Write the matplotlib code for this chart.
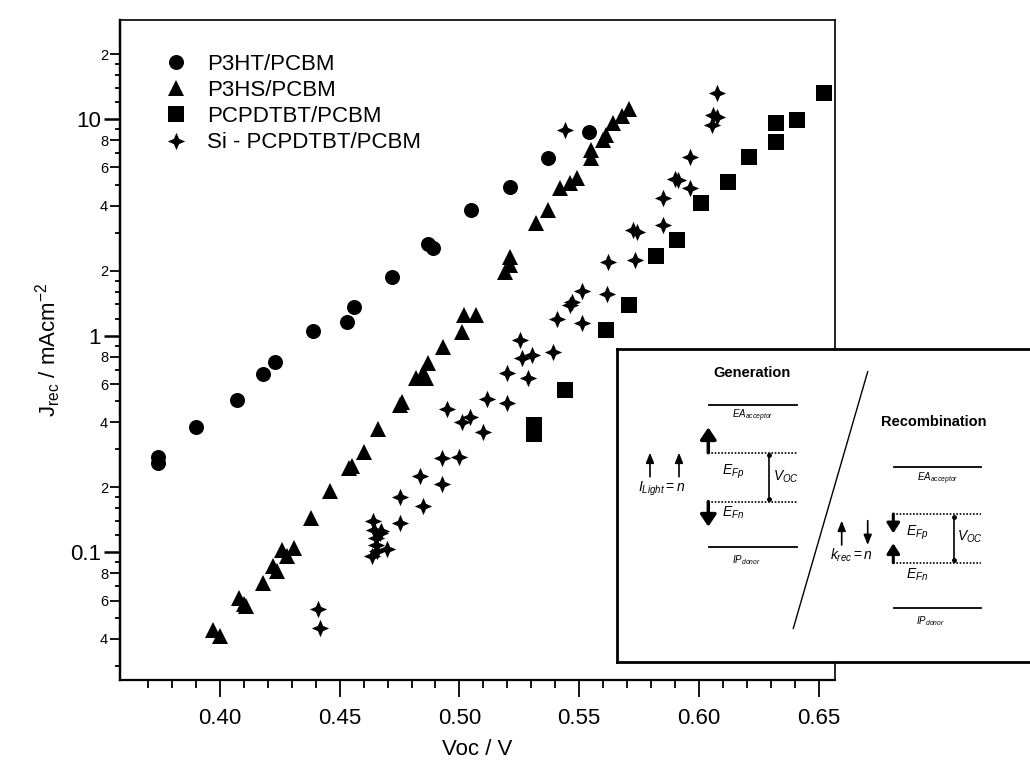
import matplotlib
matplotlib.use('Agg')
import matplotlib.pyplot as plt
from matplotlib.ticker import FixedLocator, FixedFormatter, NullFormatter, NullLocator

plt.rcParams['font.family'] = ['Liberation Sans', 'DejaVu Sans']
plt.rcParams['mathtext.fontset'] = 'custom'
plt.rcParams['mathtext.rm'] = 'Liberation Sans'
plt.rcParams['mathtext.it'] = 'Liberation Sans:italic'
plt.rcParams['mathtext.bf'] = 'Liberation Sans:bold'

# --- data (Voc in V, Jrec in mA/cm2) ---
p3ht_voc = [0.374, 0.374, 0.390, 0.407, 0.418, 0.423, 0.439, 0.453, 0.456, 0.472,
            0.487, 0.489, 0.505, 0.521, 0.537, 0.554]
p3ht_j = [0.277, 0.258, 0.379, 0.506, 0.665, 0.761, 1.058, 1.164, 1.357, 1.867,
          2.66, 2.55, 3.82, 4.89, 6.62, 8.76]

p3hs_voc = [0.397, 0.400, 0.408, 0.410, 0.411, 0.418, 0.422, 0.424, 0.426, 0.428,
            0.431, 0.438, 0.446, 0.454, 0.455, 0.460, 0.466, 0.475, 0.476, 0.482,
            0.485, 0.486, 0.487, 0.493, 0.501, 0.502, 0.507, 0.519, 0.521, 0.521,
            0.532, 0.537, 0.542, 0.546, 0.549, 0.555, 0.555, 0.560, 0.561, 0.564,
            0.568, 0.571]
p3hs_j = [0.0439, 0.0411, 0.0616, 0.0578, 0.0566, 0.0723, 0.0866, 0.0821, 0.1027, 0.0963,
          0.105, 0.144, 0.192, 0.245, 0.252, 0.292, 0.371, 0.480, 0.497, 0.638,
          0.673, 0.638, 0.748, 0.892, 1.047, 1.25, 1.25, 1.98, 2.13, 2.32,
          3.32, 3.82, 4.81, 5.07, 5.35, 6.62, 7.23, 8.04, 8.48, 9.60,
          10.38, 11.18]

pcpdtbt_voc = [0.531, 0.531, 0.544, 0.561, 0.571, 0.582, 0.591, 0.601, 0.612, 0.621,
               0.632, 0.632, 0.641, 0.652]
pcpdtbt_j = [0.386, 0.353, 0.563, 1.066, 1.39, 2.33, 2.78, 4.10, 5.16, 6.73,
             7.90, 9.67, 9.95, 13.2]

si_voc = [0.441, 0.442, 0.464, 0.4645, 0.465, 0.4653, 0.4657, 0.4636, 0.4674, 0.467,
          0.4698, 0.475, 0.4753, 0.4834, 0.4848, 0.4927, 0.500, 0.4927, 0.4948, 0.501,
          0.5045, 0.510, 0.5115, 0.5198, 0.5198, 0.5288, 0.5254, 0.5261, 0.5302, 0.5392,
          0.5407, 0.5511, 0.5462, 0.5469, 0.5511, 0.5615, 0.562, 0.5735, 0.5726, 0.574,
          0.5848, 0.5848, 0.590, 0.5914, 0.5962, 0.5962, 0.6053, 0.606, 0.6074, 0.6074,
          0.5441]
si_j = [0.0548, 0.0448, 0.140, 0.127, 0.1167, 0.1083, 0.1016, 0.0963, 0.1257, 0.1227,
        0.1035, 0.1364, 0.181, 0.2256, 0.164, 0.2723, 0.2753, 0.2065, 0.4585, 0.402,
        0.424, 0.361, 0.510, 0.492, 0.673, 0.638, 0.958, 0.789, 0.817, 0.846,
        1.198, 1.148, 1.39, 1.44, 1.61, 1.56, 2.19, 2.24, 3.09, 3.03,
        3.26, 4.33, 5.32, 5.25, 4.81, 6.73, 9.43, 10.49, 10.27, 13.2,
        8.94]

labels = ['P3HT/PCBM', 'P3HS/PCBM', 'PCPDTBT/PCBM', 'Si - PCPDTBT/PCBM']

x_major = [0.40, 0.45, 0.50, 0.55, 0.60, 0.65]
x_major_lab = ['0.40', '0.45', '0.50', '0.55', '0.60', '0.65']
x_minor = [0.37, 0.38, 0.39, 0.41, 0.42, 0.43, 0.44, 0.46, 0.47, 0.48, 0.49,
           0.51, 0.52, 0.53, 0.54, 0.56, 0.57, 0.58, 0.59, 0.61, 0.62, 0.63, 0.64]
y_major = [0.1, 1, 10]
y_major_lab = ['0.1', '1', '10']
y_mid = [0.04, 0.06, 0.08, 0.2, 0.4, 0.6, 0.8, 2, 4, 6, 8, 20]
y_mid_lab = ['4', '6', '8', '2', '4', '6', '8', '2', '4', '6', '8', '2']
y_small = [0.03, 0.05, 0.07, 0.09, 0.12, 0.14, 0.16, 0.18, 0.3, 0.5, 0.7, 0.9,
           1.2, 1.4, 1.6, 1.8, 3, 5, 7, 9, 12, 14, 16, 18]

# four pointed star marker
star4 = [(0, 1), (0.3, 0.3), (1, 0), (0.3, -0.3), (0, -1),
         (-0.3, -0.3), (-1, 0), (-0.3, 0.3), (0, 1)]

fig = plt.figure(figsize=(10.3, 7.67), dpi=100)
ax = fig.add_axes([120/1030, 87/767, 715/1030, 660/767])

ax.plot(p3ht_voc, p3ht_j, 'o', color='black', ms=10.8, mew=0, label=labels[0])
ax.plot(p3hs_voc, p3hs_j, '^', color='black', ms=12, mew=0, label=labels[1])
ax.plot(pcpdtbt_voc, pcpdtbt_j, 's', color='black', ms=11, mew=0, label=labels[2])
ax.plot(si_voc, si_j, linestyle='none', marker=star4, color='black', ms=12.5, mew=0, label=labels[3])

ax.set_yscale('log')
ax.set_xlim(0.3583, 0.6568)
ax.set_ylim(0.02577, 28.8)

ax.xaxis.set_major_locator(FixedLocator(x_major))
ax.xaxis.set_major_formatter(FixedFormatter(x_major_lab))
ax.xaxis.set_minor_locator(FixedLocator(x_minor))
ax.xaxis.set_minor_formatter(NullFormatter())
ax.yaxis.set_major_locator(FixedLocator(y_major))
ax.yaxis.set_major_formatter(FixedFormatter(y_major_lab))
ax.yaxis.set_minor_locator(FixedLocator(y_mid))
ax.yaxis.set_minor_formatter(FixedFormatter(y_mid_lab))

ax.tick_params(axis='x', which='major', direction='out', length=12, width=1.3,
               labelsize=16, pad=8)
ax.tick_params(axis='x', which='minor', direction='out', length=5.8, width=1.3)
ax.tick_params(axis='y', which='major', direction='out', length=11.5, width=1.8,
               labelsize=16, pad=2)
ax.tick_params(axis='y', which='minor', direction='out', length=7, width=1.3,
               labelsize=10.5, pad=1.5)
ax.tick_params(top=False, right=False)
for side in ['left', 'bottom']:
    ax.spines[side].set_linewidth(1.6)
for side in ['top', 'right']:
    ax.spines[side].set_linewidth(1.2)

sec = ax.secondary_yaxis('left')
sec.set_yticks(y_small)
sec.yaxis.set_major_formatter(NullFormatter())
sec.yaxis.set_minor_locator(NullLocator())
sec.tick_params(which='major', direction='out', length=3.6, width=1.3)
sec.spines['left'].set_linewidth(1.6)

ax.set_xlabel('Voc / V', fontsize=16)
ax.xaxis.set_label_coords(0.5, -0.09)
ax.set_ylabel(r'J$_{\mathrm{rec}}$ / mAcm$^{\mathrm{-2}}$', fontsize=16)
ax.yaxis.set_label_coords(-0.08, 0.5)

ax.legend(loc='upper left', bbox_to_anchor=(159.5/1030, 1 - 54/767),
          bbox_transform=fig.transFigure, frameon=False, fontsize=16,
          handlelength=1.5, handletextpad=0.65, labelspacing=0.23,
          borderpad=0, borderaxespad=0)

# --- inset band diagram (drawn in figure pixel units) ---
ins = fig.add_axes([617/1030, 1 - 662/767, (1045 - 617)/1030, (662 - 349)/767])
ins.set_xlim(617, 1045)
ins.set_ylim(662, 349)
ins.set_xticks([])
ins.set_yticks([])
for s in ins.spines.values():
    s.set_linewidth(2)
ins.set_facecolor('white')

thin = dict(arrowstyle='-|>,head_length=0.5,head_width=0.2', lw=1.2, color='k',
            shrinkA=0, shrinkB=0, mutation_scale=12)
thick = dict(arrowstyle='-|>,head_length=0.6,head_width=0.4', lw=2.5, color='k',
             shrinkA=0, shrinkB=0, mutation_scale=12)
thick_s = dict(arrowstyle='-|>,head_length=0.55,head_width=0.35', lw=2.2, color='k',
               shrinkA=0, shrinkB=0, mutation_scale=11)
dot = (0, (1, 1))

def arrow(x, y0, y1, props):
    ins.annotate('', xy=(x, y1), xytext=(x, y0), arrowprops=props)

# generation side
ins.text(751.7, 373.3, 'Generation', fontsize=10.5, fontweight='bold', ha='center', va='center')
ins.plot([709, 797], [405.3, 405.3], 'k-', lw=1.3)
ins.text(752.7, 416, r'$EA_{acceptor}$', fontsize=7, ha='center', va='center')
ins.plot([708, 797], [452.7, 452.7], 'k', ls=dot, lw=1.2)
ins.plot([708, 797], [501.7, 501.7], 'k', ls=dot, lw=1.2)
ins.plot([709, 797], [547.3, 547.3], 'k-', lw=1.3)
ins.text(746.7, 560, r'$IP_{donor}$', fontsize=7, ha='center', va='center')
arrow(708.3, 452.7, 427.3, thick)
arrow(708.3, 501.7, 526.7, thick)
ins.plot([769.3, 769.3], [455, 499.3], 'k-', lw=1.2, marker='o', ms=2.5)
ins.text(733.3, 471.7, r'$E_{Fp}$', fontsize=10, ha='center', va='center')
ins.text(733.3, 512.7, r'$E_{Fn}$', fontsize=10, ha='center', va='center')
ins.text(786, 476.7, r'$V_{OC}$', fontsize=10, ha='center', va='center')
arrow(650, 476.7, 452.7, thin)
arrow(679, 476.7, 452.7, thin)
ins.text(661.7, 489.3, r'$I_{Light} = n$', fontsize=10, ha='center', va='center')

ins.plot([867.7, 793.3], [371.7, 628.3], 'k-', lw=1)

# recombination side
ins.text(933.3, 421.7, 'Recombination', fontsize=10.5, fontweight='bold', ha='center', va='center')
ins.plot([894, 981], [466.7, 466.7], 'k-', lw=1.3)
ins.text(937.3, 478.3, r'$EA_{acceptor}$', fontsize=7, ha='center', va='center')
ins.plot([892.7, 981], [514, 514], 'k', ls=dot, lw=1.2)
ins.plot([892.7, 981], [562.7, 562.7], 'k', ls=dot, lw=1.2)
ins.plot([894, 981], [608.3, 608.3], 'k-', lw=1.3)
ins.text(930.7, 620.7, r'$IP_{donor}$', fontsize=7, ha='center', va='center')
arrow(893.3, 514, 533.3, thick_s)
arrow(893.3, 562.7, 543.3, thick_s)
ins.plot([954, 954], [516.7, 560], 'k-', lw=1.2, marker='o', ms=2.5)
ins.text(916.7, 533.3, r'$E_{Fp}$', fontsize=10, ha='center', va='center')
ins.text(916.7, 575, r'$E_{Fn}$', fontsize=10, ha='center', va='center')
ins.text(970, 536.7, r'$V_{OC}$', fontsize=10, ha='center', va='center')
arrow(841.7, 545, 520.7, thin)
arrow(867.7, 520.7, 545, thin)
ins.text(851.7, 555, r'$k_{rec} = n$', fontsize=10, ha='center', va='center')

fig.savefig('out.png', dpi=100)
